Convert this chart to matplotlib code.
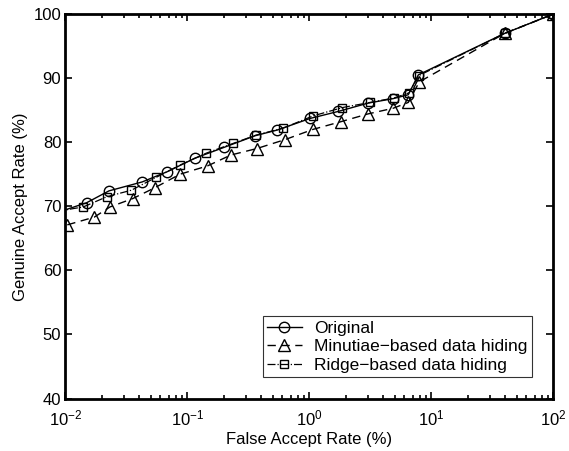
import numpy as np
import matplotlib.pyplot as plt
from matplotlib.ticker import LogLocator, NullFormatter

plt.rcParams['font.family'] = ['Liberation Sans', 'DejaVu Sans']

# values (FAR in %, GAR in %)
far_orig = [0.0085, 0.0149, 0.0227, 0.0426, 0.0683, 0.115, 0.200, 0.357, 0.545,
            1.01, 1.72, 3.03, 4.86, 6.45, 7.80, 40.0, 100.0]
gar_orig = [69.0, 70.55, 72.4, 73.8, 75.4, 77.5, 79.2, 81.0, 81.9,
            83.7, 84.8, 86.1, 86.8, 87.4, 90.5, 97.0, 100.0]

far_min = [0.01035, 0.0172, 0.0232, 0.0356, 0.0541, 0.0868, 0.146, 0.227, 0.369,
           0.63, 1.07, 1.81, 3.00, 4.86, 6.45, 7.94, 40.0, 100.0]
gar_min = [67.1, 68.3, 69.9, 71.2, 72.9, 75.0, 76.3, 78.0, 79.0,
           80.4, 82.0, 83.2, 84.4, 85.3, 86.2, 89.4, 97.0, 100.0]

far_ridge = [0.0085, 0.0140, 0.0219, 0.0346, 0.0552, 0.0863, 0.143, 0.236, 0.364,
             0.61, 1.07, 1.86, 3.13, 4.93, 6.54, 7.90, 40.0, 100.0]
gar_ridge = [69.2, 69.9, 71.5, 72.5, 74.5, 76.4, 78.3, 79.8, 81.1,
             82.2, 84.1, 85.4, 86.2, 86.9, 87.7, 90.4, 97.0, 100.0]

fig = plt.figure(figsize=(5.69, 4.51), dpi=100)
ax = fig.add_axes([0.1151, 0.1164, 0.8576, 0.8525])

mk = dict(markerfacecolor='none', markeredgecolor='k',
          markeredgewidth=1.0, color='k')
ax.plot(far_orig, gar_orig, '-', marker='o', markersize=7.5, linewidth=1.0,
        label='Original', **mk)
ax.plot(far_min, gar_min, '--', marker='^', markersize=8, linewidth=1.0,
        dashes=(6, 4), label='Minutiae\u2212based data hiding', **mk)
ax.plot(far_ridge, gar_ridge, '-.', marker='s', markersize=6, linewidth=0.9,
        label='Ridge\u2212based data hiding', **mk)

ax.set_xscale('log')
ax.set_xlim(1e-2, 1e2)
ax.set_ylim(40, 100)
ax.set_yticks(np.arange(40, 101, 10))
ax.xaxis.set_major_locator(LogLocator(base=10, numticks=10))
ax.xaxis.set_minor_locator(LogLocator(base=10, subs=np.arange(2, 10), numticks=10))
ax.xaxis.set_minor_formatter(NullFormatter())

for s in ax.spines.values():
    s.set_linewidth(2.0)
ax.tick_params(which='both', direction='in', top=True, right=True,
               labelsize=12, width=1.2)
ax.tick_params(axis='y', pad=3)
ax.tick_params(axis='x', pad=7)
ax.tick_params(which='major', length=5)
ax.tick_params(which='minor', length=3)

ax.set_xlabel('False Accept Rate (%)', fontsize=12, labelpad=3)
ax.set_ylabel('Genuine Accept Rate (%)', fontsize=12, labelpad=4)

leg = ax.legend(loc='lower right', bbox_to_anchor=(0.955, 0.055), fontsize=12.5,
                frameon=True, fancybox=False, handlelength=2.0, handletextpad=0.7,
                borderpad=0.25, labelspacing=0.2, borderaxespad=0)
leg.get_frame().set_edgecolor('k')
leg.get_frame().set_linewidth(0.8)

fig.savefig('out.png', dpi=100)
